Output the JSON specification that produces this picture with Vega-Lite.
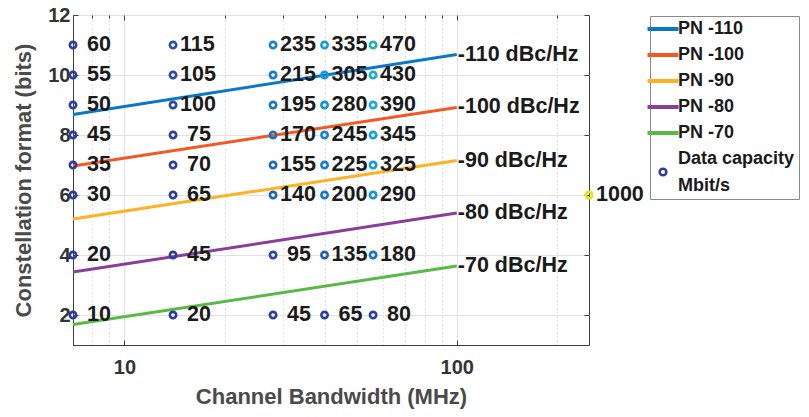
{
  "$schema": "https://vega.github.io/schema/vega-lite/v6.json",
  "width": 516,
  "height": 330,
  "autosize": "none",
  "padding": {"left": 73, "top": 15, "right": 220, "bottom": 72},
  "background": "white",
  "config": {
    "font": "Liberation Sans",
    "view": {"stroke": "#3d3d3d", "strokeWidth": 1},
    "axis": {
      "domainColor": "#3d3d3d",
      "tickColor": "#3d3d3d",
      "labelFont": "Liberation Sans",
      "labelFontSize": 20,
      "labelFontWeight": "bold",
      "labelColor": "#333333",
      "titleFont": "Liberation Sans",
      "titleFontSize": 22,
      "titleFontWeight": "bold",
      "titleColor": "#4a4a4a",
      "gridColor": "#e2e2e2",
      "gridWidth": 1
    }
  },
  "datasets": {
    "lines": [
      {"series": "PN -110", "bw": 7, "bits": 8.68},
      {"series": "PN -110", "bw": 100, "bits": 10.68},
      {"series": "PN -100", "bw": 7, "bits": 6.97},
      {"series": "PN -100", "bw": 100, "bits": 8.92},
      {"series": "PN -90", "bw": 7, "bits": 5.2},
      {"series": "PN -90", "bw": 100, "bits": 7.15},
      {"series": "PN -80", "bw": 7, "bits": 3.43},
      {"series": "PN -80", "bw": 100, "bits": 5.4},
      {"series": "PN -70", "bw": 7, "bits": 1.68},
      {"series": "PN -70", "bw": 100, "bits": 3.63}
    ],
    "ends": [
      {"label": "-110 dBc/Hz", "bw": 100, "bits": 10.68},
      {"label": "-100 dBc/Hz", "bw": 100, "bits": 8.92},
      {"label": "-90 dBc/Hz", "bw": 100, "bits": 7.15},
      {"label": "-80 dBc/Hz", "bw": 100, "bits": 5.4},
      {"label": "-70 dBc/Hz", "bw": 100, "bits": 3.63}
    ],
    "capacity": [
      {"bw": 7, "bits": 11, "cap": 60}, {"bw": 14, "bits": 11, "cap": 115}, {"bw": 28, "bits": 11, "cap": 235}, {"bw": 40, "bits": 11, "cap": 335}, {"bw": 56, "bits": 11, "cap": 470},
      {"bw": 7, "bits": 10, "cap": 55}, {"bw": 14, "bits": 10, "cap": 105}, {"bw": 28, "bits": 10, "cap": 215}, {"bw": 40, "bits": 10, "cap": 305}, {"bw": 56, "bits": 10, "cap": 430},
      {"bw": 7, "bits": 9, "cap": 50}, {"bw": 14, "bits": 9, "cap": 100}, {"bw": 28, "bits": 9, "cap": 195}, {"bw": 40, "bits": 9, "cap": 280}, {"bw": 56, "bits": 9, "cap": 390},
      {"bw": 7, "bits": 8, "cap": 45}, {"bw": 14, "bits": 8, "cap": 75}, {"bw": 28, "bits": 8, "cap": 170}, {"bw": 40, "bits": 8, "cap": 245}, {"bw": 56, "bits": 8, "cap": 345},
      {"bw": 7, "bits": 7, "cap": 35}, {"bw": 14, "bits": 7, "cap": 70}, {"bw": 28, "bits": 7, "cap": 155}, {"bw": 40, "bits": 7, "cap": 225}, {"bw": 56, "bits": 7, "cap": 325},
      {"bw": 7, "bits": 6, "cap": 30}, {"bw": 14, "bits": 6, "cap": 65}, {"bw": 28, "bits": 6, "cap": 140}, {"bw": 40, "bits": 6, "cap": 200}, {"bw": 56, "bits": 6, "cap": 290},
      {"bw": 7, "bits": 4, "cap": 20}, {"bw": 14, "bits": 4, "cap": 45}, {"bw": 28, "bits": 4, "cap": 95}, {"bw": 40, "bits": 4, "cap": 135}, {"bw": 56, "bits": 4, "cap": 180},
      {"bw": 7, "bits": 2, "cap": 10}, {"bw": 14, "bits": 2, "cap": 20}, {"bw": 28, "bits": 2, "cap": 45}, {"bw": 40, "bits": 2, "cap": 65}, {"bw": 56, "bits": 2, "cap": 80},
      {"bw": 250, "bits": 6, "cap": 1000}
    ]
  },
  "layer": [
    {
      "data": {"name": "lines"},
      "mark": {"type": "line", "strokeWidth": 3},
      "encoding": {
        "x": {
          "field": "bw", "type": "quantitative",
          "scale": {"type": "log", "domain": [7, 250], "nice": false},
          "axis": {
            "values": [10, 100], "format": "d", "grid": true,
            "tickSize": -5, "labelPadding": 17,
            "title": "Channel Bandwidth (MHz)", "titlePadding": 9
          }
        },
        "y": {
          "field": "bits", "type": "quantitative",
          "scale": {"domain": [1, 12], "nice": false, "zero": false},
          "axis": {
            "values": [2, 4, 6, 8, 10, 12], "grid": true,
            "tickSize": -5, "labelPadding": 8,
            "title": "Constellation format (bits)", "titlePadding": 12
          }
        },
        "color": {
          "field": "series", "type": "nominal",
          "scale": {
            "domain": ["PN -110", "PN -100", "PN -90", "PN -80", "PN -70", "Data capacity Mbit/s"],
            "range": ["#0b78c6", "#f25a24", "#fdb223", "#8a3e9a", "#5ab946", "#2c3c9a"]
          },
          "legend": {
            "orient": "none", "legendX": 577, "legendY": 1,
            "title": null,
            "symbolType": "stroke", "symbolSize": 961, "symbolStrokeWidth": 4,
            "labelFontSize": 18, "labelFontWeight": "bold", "labelColor": "#1a1a1a",
            "labelOffset": 6, "labelLimit": 119,
            "padding": 4, "rowPadding": 8,
            "strokeColor": "#8a8a8a", "fillColor": "white",
            "labelExpr": "datum.value === 'Data capacity Mbit/s' ? ['Data capacity', 'Mbit/s'] : datum.label",
            "encode": {
              "symbols": {
                "update": {
                  "shape": {"signal": "datum.value === 'Data capacity Mbit/s' ? 'circle' : 'stroke'"},
                  "size": {"signal": "datum.value === 'Data capacity Mbit/s' ? 45 : 961"},
                  "strokeWidth": {"signal": "datum.value === 'Data capacity Mbit/s' ? 2.5 : 4"},
                  "fill": {"value": "transparent"},
                  "y": {"signal": "datum.size * 0.5 + (datum.value === 'Data capacity Mbit/s' ? 13 : 0)"}
                }
              },
              "labels": {"update": {"lineHeight": {"value": 27}}}
            }
          }
        }
      }
    },
    {
      "data": {"name": "ends"},
      "mark": {"type": "text", "align": "left", "baseline": "middle", "dx": 1, "fontSize": 21.5, "fontWeight": "bold", "color": "#1a1a1a"},
      "encoding": {
        "x": {
          "field": "bw", "type": "quantitative",
          "axis": {
            "values": [8, 9, 20, 30, 40, 50, 60, 70, 80, 90, 200],
            "grid": true, "gridDash": [1, 3], "gridColor": "#c8c8c8",
            "labels": false, "domain": false, "tickSize": -3, "title": null
          }
        },
        "y": {
          "field": "bits", "type": "quantitative",
          "axis": {
            "orient": "right", "values": [2, 4, 6, 8, 10, 12],
            "grid": false, "labels": false, "domain": false, "tickSize": -5, "title": null
          }
        },
        "text": {"field": "label"}
      }
    },
    {
      "data": {"name": "capacity"},
      "mark": {"type": "point", "shape": "circle", "filled": false, "size": 40, "strokeWidth": 2.6, "opacity": 1},
      "encoding": {
        "x": {
          "field": "bw", "type": "quantitative",
          "axis": {
            "orient": "top", "values": [10, 100], "grid": false,
            "labels": false, "domain": false, "tickSize": -5, "title": null
          }
        },
        "y": {"field": "bits", "type": "quantitative", "axis": null},
        "stroke": {
          "field": "cap", "type": "quantitative",
          "scale": {
            "domain": [0, 80, 120, 160, 240, 300, 400, 470, 1000],
            "range": ["#2c3a98", "#2c3e9d", "#2a52aa", "#1b6cbf", "#1682cd", "#1598d7", "#18aadc", "#22b4ae", "#e6e60c"],
            "interpolate": "rgb", "clamp": true
          },
          "legend": null
        }
      }
    },
    {
      "data": {"name": "capacity"},
      "transform": [{"filter": "datum.cap < 100"}],
      "mark": {"type": "text", "align": "left", "baseline": "middle", "dx": 14, "fontSize": 21.5, "fontWeight": "bold", "color": "#1a1a1a"},
      "encoding": {
        "x": {"field": "bw", "type": "quantitative", "axis": null},
        "y": {"field": "bits", "type": "quantitative", "axis": null},
        "text": {"field": "cap", "type": "quantitative", "format": "d"}
      }
    },
    {
      "data": {"name": "capacity"},
      "transform": [{"filter": "datum.cap >= 100"}],
      "mark": {"type": "text", "align": "left", "baseline": "middle", "dx": 7, "fontSize": 21.5, "fontWeight": "bold", "color": "#1a1a1a"},
      "encoding": {
        "x": {"field": "bw", "type": "quantitative", "axis": null},
        "y": {"field": "bits", "type": "quantitative", "axis": null},
        "text": {"field": "cap", "type": "quantitative", "format": "d"}
      }
    }
  ],
  "resolve": {"axis": {"x": "independent", "y": "independent"}}
}
